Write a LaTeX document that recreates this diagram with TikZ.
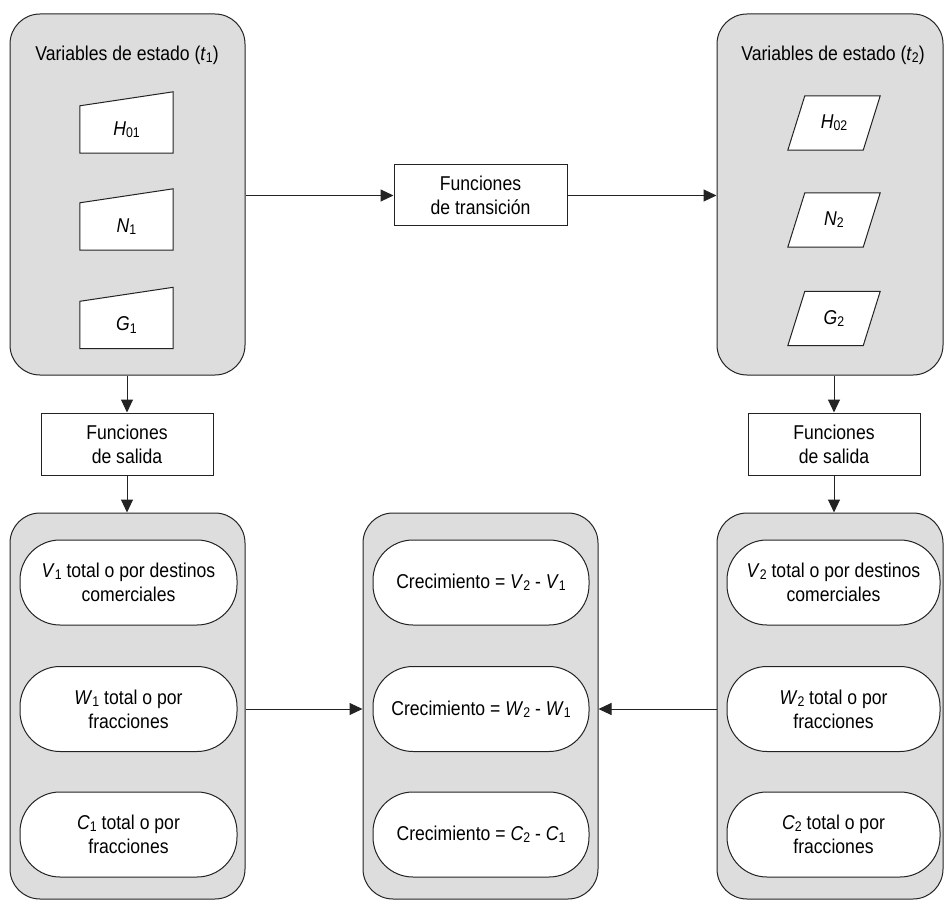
\documentclass[tikz,border=0pt]{standalone}
\usepackage{fontspec}
\setmainfont{Liberation Sans}[FakeStretch=0.88]
\usetikzlibrary{arrows.meta,calc}
\definecolor{panelfill}{RGB}{221,221,221}
\definecolor{linec}{RGB}{35,35,35}
\newcommand{\sbs}[1]{\raisebox{-0.2ex}{\fontsize{14}{14}\selectfont #1}}
\begin{document}
\begin{tikzpicture}[x=1pt,y=-1pt,
  font=\fontsize{20}{24}\selectfont,
  panel/.style={draw=linec, fill=panelfill, line width=1pt, rounded corners=30pt, inner sep=0pt},
  fbox/.style={draw=linec, fill=white, line width=1pt, align=center, inner sep=0pt, minimum width=172pt, minimum height=62pt},
  pill/.style={draw=linec, fill=white, line width=1pt, rounded corners=40pt, align=center, inner sep=0pt, minimum width=216pt, minimum height=85pt},
  shbox/.style={inner sep=0pt, minimum width=93pt, minimum height=47pt},
  pgbox/.style={inner sep=0pt, minimum width=92pt, minimum height=54pt},
  shline/.style={draw=linec, fill=white, line width=1pt},
  arr/.style={-{Triangle[length=13pt,width=12pt]}, line width=1pt, draw=linec}]
\useasboundingbox (0,0) rectangle (944,901);
% top panels
\node[panel, minimum width=235pt, minimum height=361pt] (P1) at (127.5,194.5) {};
\node[panel, minimum width=226pt, minimum height=361pt] (P2) at (830,194.5) {};
\node (T1) at (127,55) {Variables de estado (\textit{t}\sbs{1})};
\node (T2) at (833,55) {Variables de estado (\textit{t}\sbs{2})};
% manual input shapes
\foreach \n/\y/\t in {H1/129.5/{\textit{H}\sbs{01}}, N1/226.5/{\textit{N}\sbs{1}}, G1/325/{\textit{G}\sbs{1}}}{
  \node[shbox] (\n) at (126.5,\y) {};
  \draw[shline] (\n.south west) -- (\n.south east) -- ($(\n.north east)+(0,-14)$) -- (\n.north west) -- cycle;
  \node at (\n) {\t};
}
% parallelograms
\foreach \n/\y/\t in {H2/123/{\textit{H}\sbs{02}}, N2/220/{\textit{N}\sbs{2}}, G2/318.5/{\textit{G}\sbs{2}}}{
  \node[pgbox] (\n) at (834,\y) {};
  \draw[shline] (\n.south west) -- ($(\n.south east)+(-17,0)$) -- (\n.north east) -- ($(\n.north west)+(17,0)$) -- cycle;
  \node at (\n) {\t};
}
% transition
\node[fbox, minimum width=173pt, minimum height=61pt] (TR) at (480.5,195.5) {Funciones\\de transición};
\draw[arr] (P1.east |- TR.west) -- (TR.west);
\draw[arr] (TR.east) -- (TR.east -| P2.west);
% output functions
\node[fbox] (FS1) at (127,444) {Funciones\\de salida};
\node[fbox] (FS2) at (834,444) {Funciones\\de salida};
% bottom panels
\node[panel, minimum width=235pt, minimum height=386pt] (B1) at (127.5,706) {};
\node[panel, minimum width=235pt, minimum height=386pt] (B2) at (480.5,706) {};
\node[panel, minimum width=226pt, minimum height=386pt] (B3) at (830,706) {};
\draw[arr] (FS1.north |- P1.south) -- (FS1.north);
\draw[arr] (FS1.south) -- (FS1.south |- B1.north);
\draw[arr] (FS2.north |- P2.south) -- (FS2.north);
\draw[arr] (FS2.south) -- (FS2.south |- B3.north);
% pills
\node[pill, minimum width=217pt] (V1) at (128.5,582.5) {\textit{V}\sbs{1} total o por destinos\\comerciales};
\node[pill, minimum width=217pt] (W1) at (128.5,709) {\textit{W}\sbs{1} total o por\\fracciones};
\node[pill, minimum width=217pt] (C1) at (128.5,834.5) {\textit{C}\sbs{1} total o por\\fracciones};
\node[pill] (DV) at (481,582.5) {Crecimiento = \textit{V}\sbs{2} - \textit{V}\sbs{1}};
\node[pill] (DW) at (481,709) {Crecimiento = \textit{W}\sbs{2} - \textit{W}\sbs{1}};
\node[pill] (DC) at (481,834.5) {Crecimiento = \textit{C}\sbs{2} - \textit{C}\sbs{1}};
\node[pill, minimum width=213pt] (V2) at (833.5,582.5) {\textit{V}\sbs{2} total o por destinos\\comerciales};
\node[pill, minimum width=213pt] (W2) at (833.5,709) {\textit{W}\sbs{2} total o por\\fracciones};
\node[pill, minimum width=213pt] (C2) at (833.5,834.5) {\textit{C}\sbs{2} total o por\\fracciones};
\draw[arr] (B1.east |- DW.west) -- (B2.west |- DW.west);
\draw[arr] (B3.west |- DW.east) -- (B2.east |- DW.east);
\end{tikzpicture}
\end{document}
